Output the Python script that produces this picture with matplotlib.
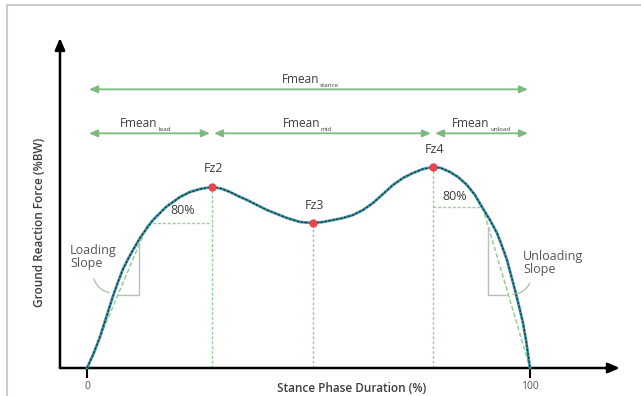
import numpy as np
import matplotlib.pyplot as plt
from matplotlib.lines import Line2D

plt.rcParams['font.family'] = ['Open Sans', 'DejaVu Sans']

# ground reaction force curve (stance %, %BW)
stance = [0, 1.35, 2.93, 4.29, 5.87, 7.0, 8.13, 9.26, 10.38, 11.96, 13.54, 14.9, 16.48,
          17.83, 19.41, 20.99, 23.25, 25.51, 28.22, 30.25, 32.28, 34.09, 36.12, 38.37,
          40.63, 42.89, 45.15, 48.08, 51.02, 53.27, 55.53, 57.79, 60.05, 62.3, 64.56,
          66.82, 69.07, 71.33, 73.59, 75.85, 78.1, 79.91, 81.94, 83.75, 85.78, 87.58,
          89.16, 90.97, 92.55, 93.68, 94.81, 95.71, 96.61, 97.52, 98.42, 99.1, 99.55, 100]
force = [0, 7.8, 18.6, 30, 43.2, 51.6, 59.4, 65.4, 70.8, 78, 84, 88.8, 93,
         96.6, 99.6, 102.6, 105.6, 107.4, 108.6, 107.7, 105.6, 103.2, 100.8, 97.8,
         94.8, 92.4, 90, 87.6, 87, 87.6, 88.8, 90, 91.8, 94.8, 99,
         104.4, 109.8, 114, 117, 119.4, 120.6, 120, 117.6, 114.6, 109.8, 103.8,
         96.6, 88.8, 81, 73.2, 64.8, 55.8, 46.8, 37.2, 27, 16.8, 8.4, 0]

peak_names = ['Fz2', 'Fz3', 'Fz4']
peak_x = [28.22, 51.02, 78.1]
peak_y = [108.6, 87, 120.6]

load80_x = 13.8     # where the curve reaches 80% of Fz2
unload80_x = 89.3   # where the curve falls to 80% of Fz4

spans = [(0, 100, 'stance'), (0, 28.2, 'load'), (28.2, 78.1, 'mid'), (78.1, 100, 'unload')]

txt = '#3d3d3d'
green = '#7dba7d'
lgreen = '#94cf94'
grey = '#bdbdbd'

fig = plt.figure(figsize=(6.41, 3.96), dpi=100)
ax = fig.add_axes([0, 0, 1, 1])
ax.set_xlim(-19.64, 125.06)
ax.set_ylim(-16.8, 220.8)
ax.axis('off')

# light frame at top/left
fig.add_artist(Line2D([7/641, 1], [1-5/396, 1-5/396], transform=fig.transFigure, color='#cccccc', lw=1.5))
fig.add_artist(Line2D([7/641, 7/641], [0, 1-5/396], transform=fig.transFigure, color='#cccccc', lw=1.5))

# axes with arrows
ax.annotate('', xy=(-6.1, 198), xytext=(-6.1, 0),
            arrowprops=dict(arrowstyle='-|>,head_length=0.7,head_width=0.3', color='black', lw=1.8, shrinkA=0, shrinkB=0))
ax.annotate('', xy=(120.3, 0), xytext=(-6.1, 0),
            arrowprops=dict(arrowstyle='-|>,head_length=0.7,head_width=0.3', color='black', lw=1.8, shrinkA=0, shrinkB=0))
for t in [0, 100]:
    ax.plot([t, t], [0, -5.4], color='black', lw=1.5)
    ax.text(t, -8, str(t), ha='center', va='top', fontsize=7.5, color='#555555')
ax.text(59.7, -12.6, 'Stance Phase Duration (%)', ha='center', va='center', fontsize=8.5,
        color=txt, fontweight='semibold')
ax.text(-10.8, 87.6, 'Ground Reaction Force (%BW)', ha='center', va='center', fontsize=8.5,
        color=txt, fontweight='semibold', rotation=90)

# vertical dashed lines under peaks
for px, py in zip(peak_x, peak_y):
    ax.plot([px, px], [0, py], color=lgreen, lw=1, ls=(0, (2, 1.5)))

# 80% lines and slopes
f2 = peak_y[0] * 0.8
f4 = peak_y[2] * 0.8
ax.plot([load80_x, peak_x[0]], [f2, f2], color=lgreen, lw=1, ls=(0, (2, 1.5)))
ax.plot([peak_x[2], unload80_x], [f4, f4], color=lgreen, lw=1, ls=(0, (2, 1.5)))
ax.plot([0, load80_x], [0, f2], color=lgreen, lw=1.1, ls=(0, (3, 1.5)))
ax.plot([unload80_x, 100], [f4, 0], color=lgreen, lw=1.1, ls=(0, (3, 1.5)))
ax.text(21.7, 90.6, '80%', ha='center', va='bottom', fontsize=9, color=txt)
ax.text(83.1, 99.2, '80%', ha='center', va='bottom', fontsize=9, color=txt)

# slope triangles
tri_y = 43.8
lx = 11.8
ax.plot([load80_x * tri_y / f2, lx, lx], [tri_y, tri_y, f2 * lx / load80_x], color=grey, lw=1)
ux = 90.6
ax.plot([ux, ux, 100 - tri_y * (100 - unload80_x) / f4],
        [f4 * (100 - ux) / (100 - unload80_x), tri_y, tri_y], color=grey, lw=1)

# curve
ax.plot(stance, force, color='#3a9cb2', lw=2, solid_capstyle='round', solid_joinstyle='round', zorder=3)
ax.plot(stance, force, color='#2b2b2b', lw=0.9, ls=(0, (2, 1.2)), zorder=4)

# peaks
ax.plot(peak_x, peak_y, 'o', color='#e8474f', ms=5, zorder=5)
lab_off = [7.5, 6.6, 6.6]
for n, px, py, o in zip(peak_names, peak_x, peak_y, lab_off):
    ax.text(px + 0.4, py + o, n, ha='center', va='bottom', fontsize=9, color=txt)

# slope labels
ax.text(-3.8, 66.6, 'Loading\nSlope', ha='left', va='center', fontsize=9, color='#555555', linespacing=1.05)
ax.annotate('', xy=(5.6, 45), xytext=(1.4, 55),
            arrowprops=dict(arrowstyle='-', color='#a8c8a0', lw=1, connectionstyle='arc3,rad=0.35'))
ax.text(98.4, 63, 'Unloading\nSlope', ha='left', va='center', fontsize=9, color='#555555', linespacing=1.05)
ax.annotate('', xy=(95.5, 44), xytext=(100.2, 52.5),
            arrowprops=dict(arrowstyle='-', color='#a8c8a0', lw=1, connectionstyle='arc3,rad=-0.35'))

# Fmean arrows
row_y = [167.2, 140.8, 140.8, 140.8]
lab_x = [44.0, 7.45, 44.2, 82.4]
for (a, b, sub), y, lx0 in zip(spans, row_y, lab_x):
    ax.annotate('', xy=(b, y), xytext=(a, y),
                arrowprops=dict(arrowstyle='<|-|>,head_length=0.5,head_width=0.22', color=green,
                                lw=1.3, shrinkA=1.5, shrinkB=1.5))
    t = ax.text(lx0, y + 3.6, 'Fmean', ha='left', va='baseline', fontsize=8.5, color=txt)
    ax.annotate(sub, xy=(1, 0), xycoords=t, xytext=(0.5, -1), textcoords='offset points',
                ha='left', va='bottom', fontsize=4.5, color=txt)

plt.savefig('out.png', dpi=100)
